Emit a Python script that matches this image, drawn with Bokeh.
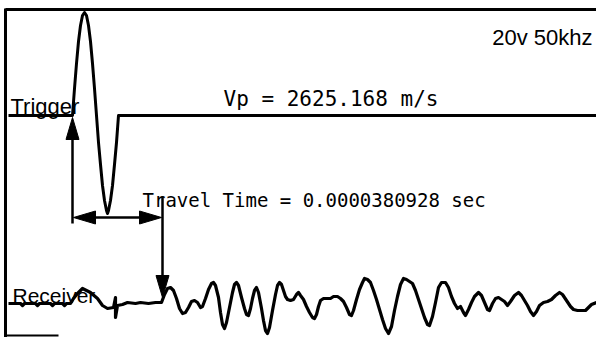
from bokeh.plotting import figure
from bokeh.models import Range1d
from bokeh.core.properties import value
from bokeh.embed import file_html
from bokeh.resources import INLINE

# ---------------- data (x = sample index, y = amplitude) ----------------
trig_sample = [8, 72, 74, 76, 78, 80, 82, 84, 86, 88, 90, 92, 94, 96,
               98, 100, 102, 104, 106, 107, 108, 110, 112, 114, 116, 118, 596]
trig_amp = [0, 0, 27, 52, 74, 90, 100, 103, 100, 90, 74, 52, 27, 0,
            -27, -49, -70, -85, -95, -98, -95, -85, -70, -49, -27, 0, 0]

rx_sample = [8, 20, 22, 24, 35, 37, 39, 50, 52, 54, 62, 64, 66, 70, 73, 77, 82, 86, 90, 97,
             102, 107, 113, 115, 115, 117, 122, 127, 135, 140, 148, 155,
             161, 164, 167, 170, 173, 176, 179, 182, 185, 188, 191, 194, 197, 200, 202,
             205, 208, 211, 213, 215, 218, 220, 222, 224, 226, 229, 232, 234, 236, 238,
             241, 244, 246, 248, 250, 252, 254, 256, 258, 261, 263, 265, 267, 269, 272,
             275, 277, 279, 281, 283, 285, 287, 290, 293, 296, 298, 300, 303, 306, 309,
             312, 314, 316, 318, 320, 323, 330, 333, 337, 340, 343, 346, 349, 351, 353,
             356, 359, 362, 364, 367, 370, 373, 376, 379, 382, 385, 388, 391, 394, 397,
             400, 403, 406, 409, 412, 415, 418, 421, 424, 427, 429, 432, 435, 438, 441,
             445, 448, 451, 454, 457, 460, 463, 465, 468, 471, 474, 478, 481, 484, 487,
             489, 492, 495, 498, 501, 504, 507, 510, 514, 518, 521, 524, 527, 530, 533,
             536, 539, 543, 547, 551, 555, 559, 562, 566, 570, 573, 577, 585, 588, 591, 596]
rx_amp = [-1, -1, -3, -1, -1, -3, -1, -1, -3, -1, -1, -3, -1, -1, 4, 9, 14, 12, 10, 4,
          -3, -6, -5, 5, -15, -3, -2, 0, -1, 0, -1, 0,
          0, 8, 14, 15, 12, 4, -6, -11, -10, -5, 1, 2, 0, -5, -4,
          4, 13, 19, 20, 17, 5, -10, -22, -26, -20, -5, 10, 18, 20, 17,
          5, -6, -12, -13, -6, 4, 12, 15, 10, -6, -18, -28, -31, -25, -8,
          8, 17, 20, 18, 12, 6, 3, 2, 3, 8, 10, 7, 3, -4, -10,
          -15, -16, -12, -4, 2, 4, 4, 6, 6, 4, 1, -5, -12, -13, -8,
          3, 13, 20, 24, 23, 20, 12, 3, -7, -17, -26, -31, -24, -8, 6,
          18, 24, 23, 21, 19, 12, 3, -6, -15, -22, -23, -14, 0, 15, 20,
          20, 15, 6, -1, -6, -4, -10, -13, -7, 0, 6, 10, 7, 0, -7,
          -8, -1, 4, 5, 3, 1, -3, 1, 7, 10, 7, 2, -3, -9, -13,
          -9, -3, 0, 1, 3, 7, 10, 8, 2, -4, -7, -8, -8, -5, -2, 0]

trigger_sample = 72
arrival_sample = 162

trigger_label = "Trigger"
receiver_label = "Receiver"
setting_label = "20v 50khz"
vp_label = "Vp = 2625.168 m/s"
tt_label = "Travel Time = 0.0000380928 sec"

# ---------------- layout / style ----------------
W, H = 596, 337
TRIG_BASE = 222
RX_BASE = 35
BOX_LEFT, BOX_TOP = 5, 328

p = figure(width=W, height=H, x_range=Range1d(0, W), y_range=Range1d(0, H),
           output_backend="svg", toolbar_location=None, min_border=0,
           x_axis_location=None, y_axis_location=None)
p.grid.visible = False
p.outline_line_color = None
p.background_fill_color = "white"
p.border_fill_color = "white"

# frame lines
p.line([BOX_LEFT, W], [BOX_TOP, BOX_TOP], line_color="black", line_width=3)
p.line([BOX_LEFT, BOX_LEFT], [0, BOX_TOP + 1], line_color="black", line_width=3)
p.line([BOX_LEFT, 58], [2, 2], line_color="black", line_width=2)

# traces
p.line(trig_sample, [TRIG_BASE + a for a in trig_amp],
       line_color="black", line_width=3, line_join="round")
p.line(rx_sample, [RX_BASE + a for a in rx_amp],
       line_color="black", line_width=3.2, line_join="round")

# arrows
up_y0, up_y1 = 114, 220
hz_y = 120
dn_y0, dn_y1 = 141, 40
p.line([trigger_sample, trigger_sample], [up_y0, up_y1 - 10], line_color="black", line_width=2.5)
p.line([trigger_sample + 5, arrival_sample - 5], [hz_y, hz_y], line_color="black", line_width=2.5)
p.line([arrival_sample, arrival_sample], [dn_y0, dn_y1 + 10], line_color="black", line_width=2.5)

L, HW = 22, 6.5
heads_x, heads_y = [], []
for (tx, ty, dx, dy) in [(trigger_sample, up_y1, 0, 1),
                         (trigger_sample + 1, hz_y, -1, 0),
                         (arrival_sample - 1, hz_y, 1, 0),
                         (arrival_sample, dn_y1, 0, -1)]:
    nx, ny = -dy, dx
    bx, by = tx - L * dx, ty - L * dy
    heads_x.append([tx, bx + HW * nx, bx - HW * nx])
    heads_y.append([ty, by + HW * ny, by - HW * ny])
p.patches(heads_x, heads_y, fill_color="black", line_color="black", line_width=1)

# texts
p.text(x=[10], y=[231], text=[trigger_label], text_font=value("Liberation Sans"),
       text_font_size="22px", text_baseline="alphabetic", text_align="left", text_color="black")
p.text(x=[12], y=[42], text=[receiver_label], text_font=value("Liberation Sans"),
       text_font_size="21px", text_baseline="alphabetic", text_align="left", text_color="black")
p.text(x=[592], y=[300], text=[setting_label], text_font=value("Liberation Sans"),
       text_font_size="22px", text_baseline="alphabetic", text_align="right", text_color="black")
p.text(x=[223], y=[239], text=[vp_label], text_font=value("DejaVu Sans Mono"),
       text_font_size="21px", text_baseline="alphabetic", text_align="left", text_color="black")
p.text(x=[142], y=[138], text=[tt_label], text_font=value("DejaVu Sans Mono"),
       text_font_size="19px", text_baseline="alphabetic", text_align="left", text_color="black")

open("out.html", "w").write(file_html(p, INLINE))
